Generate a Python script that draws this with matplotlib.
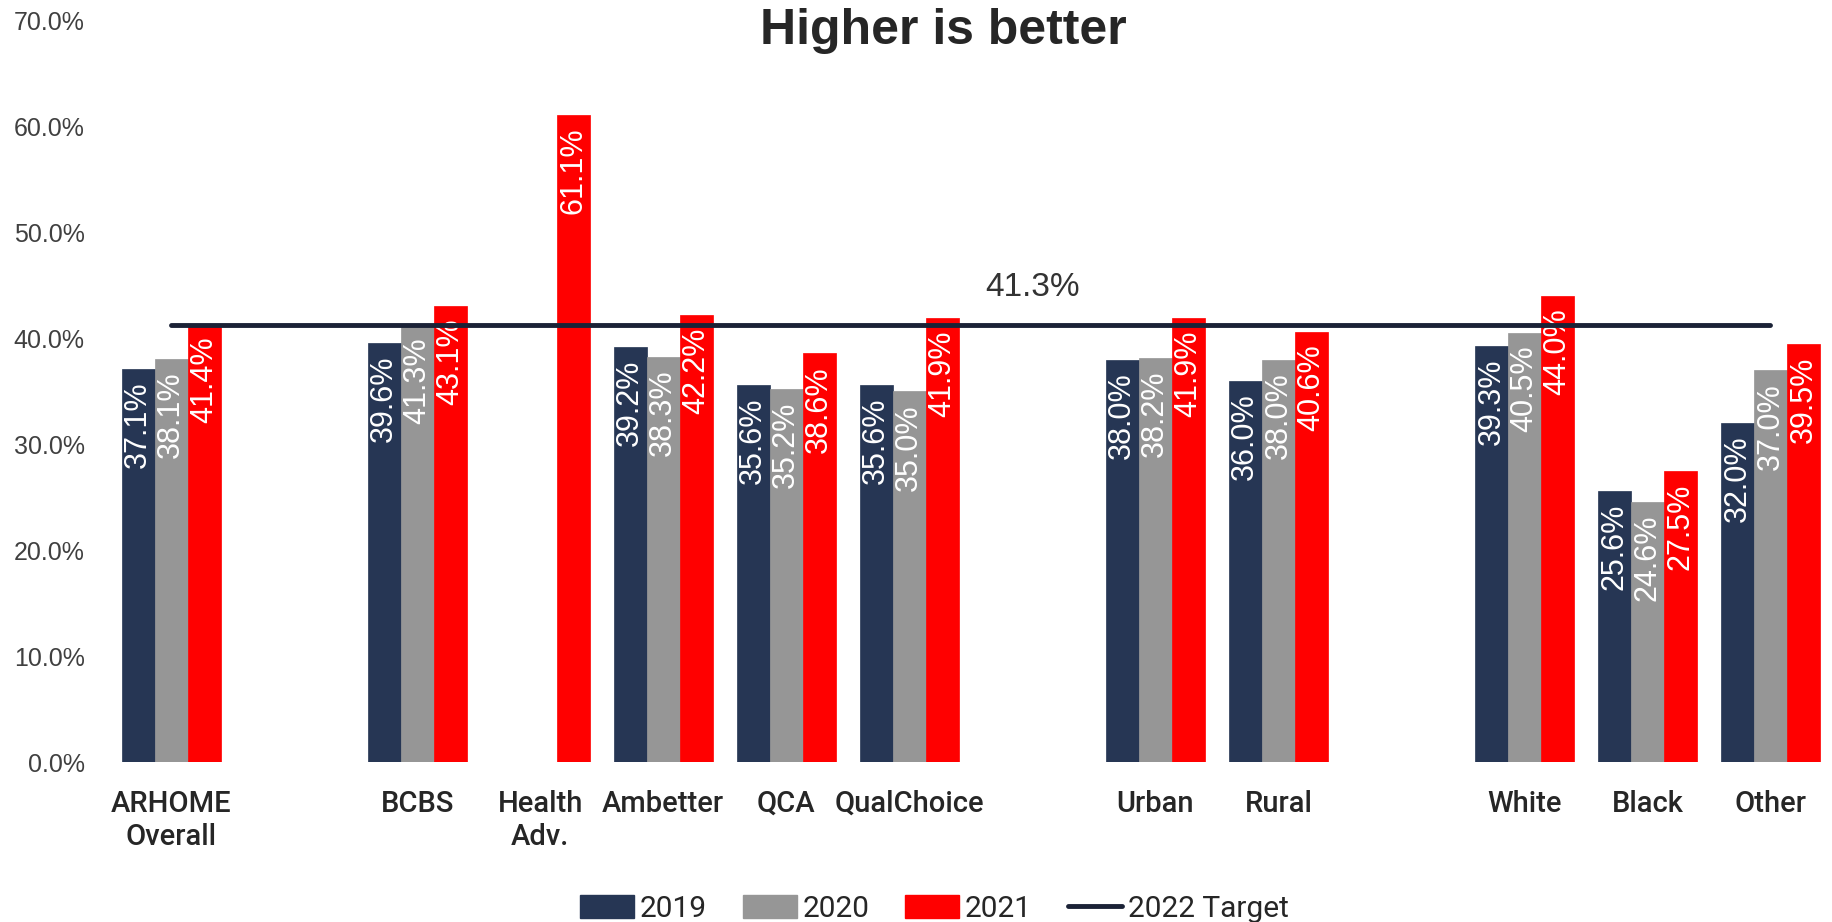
import numpy as np
import matplotlib
matplotlib.use("Agg")
import matplotlib.pyplot as plt
from matplotlib.lines import Line2D
from matplotlib.patches import Patch

nan = np.nan

# Slots, blank ones give the gaps between groups
categories = ["ARHOME\nOverall", "", "BCBS", "Health\nAdv.", "Ambetter", "QCA", "QualChoice",
              "", "Urban", "Rural", "", "White", "Black", "Other"]
v2019 = [37.1, nan, 39.6, nan, 39.2, 35.6, 35.6, nan, 38.0, 36.0, nan, 39.3, 25.6, 32.0]
v2020 = [38.1, nan, 41.3, nan, 38.3, 35.2, 35.0, nan, 38.2, 38.0, nan, 40.5, 24.6, 37.0]
v2021 = [41.4, nan, 43.1, 61.1, 42.2, 38.6, 41.9, nan, 41.9, 40.6, nan, 44.0, 27.5, 39.5]
target = 41.3
series_names = ["2019", "2020", "2021"]
target_name = "2022 Target"

colors = ["#263654", "#969696", "#FF0000"]
line_color = "#1B2236"

main_font = ["Liberation Sans", "DejaVu Sans"]
cond_font = ["Roboto", "Liberation Sans", "DejaVu Sans"]

fig = plt.figure(figsize=(18.32, 9.22), dpi=100)
ax = fig.add_axes([109.6 / 1832, 160 / 922, 1 - 109.6 / 1832, 741 / 922])

x = np.arange(len(categories))
w = 0.2687

for i, (vals, col) in enumerate(zip([v2019, v2020, v2021], colors)):
    xs = x + (i - 1) * w
    ax.bar(xs, vals, width=w, color=col, edgecolor=col, linewidth=0.5)
    for xi, v in zip(xs, vals):
        if np.isnan(v):
            continue
        ax.annotate(f"{v:.1f}%", (xi, v), xytext=(0, -9), textcoords="offset points",
                    rotation=90, ha="center", va="top", color="white",
                    fontsize=22, family=main_font)

# target line across all slots
ax.plot([x[0], x[-1]], [target, target], color=line_color, linewidth=3.5,
        solid_capstyle="round", zorder=3)
ax.annotate(f"{target:.1f}%", (7, target), xytext=(0, 16), textcoords="offset points",
            ha="center", va="bottom", color="#333333", fontsize=24, family=main_font)

ax.set_xlim(-0.5, len(categories) - 0.5)
ax.set_ylim(0, 70)
ax.set_yticks(np.arange(0, 71, 10))
ax.set_yticklabels([f"{t:.1f}%" for t in np.arange(0, 71, 10)], color="#404040",
                   fontsize=18, family=main_font)
ax.set_xticks(x)
ax.set_xticklabels(categories, fontsize=21, family=cond_font, fontweight="medium",
                   color="#262626", linespacing=1.25)
ax.tick_params(axis="both", length=0)
ax.tick_params(axis="y", pad=18)
ax.tick_params(axis="x", pad=20)
for s in ax.spines.values():
    s.set_visible(False)

fig.text(0.515, 1 - 31.5 / 922, "Higher is better", ha="center", va="center",
         fontsize=36, fontweight="bold", color="#262626", family=main_font)

handles = [Patch(color=c) for c in colors] + [Line2D([], [], color=line_color, linewidth=3.5,
                                                     solid_capstyle="round")]
fig.legend(handles, series_names + [target_name], loc="lower center", ncol=4,
           bbox_to_anchor=(0.51, -0.03), frameon=False,
           prop={"family": cond_font, "size": 21.5, "weight": "normal"}, handlelength=1.8,
           handleheight=0.8, handletextpad=0.2, columnspacing=1.2, labelcolor="#262626")

fig.savefig("out.png", dpi=100)
